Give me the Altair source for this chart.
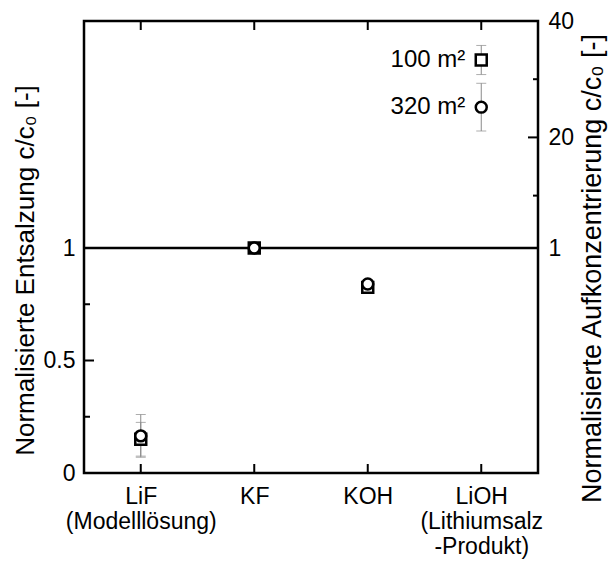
import altair as alt
import pandas as pd

# ---------------- data ----------------
categories = ["LiF", "KF", "KOH", "LiOH"]
series = ["100 m²", "320 m²"]
vals_100 = [0.15, 1.015, 0.825, 33.3]
err_100 = [0.075, 0.015, 0.015, 2.5]
vals_320 = [0.165, 1.015, 0.84, 25.2]
err_320 = [0.095, 0.015, 0.015, 4.1]

left_major = [0, 0.5, 1]
left_minor = [0.25, 0.75]
right_major = [20]
right_minor = [10, 30]
right_labels = [1, 20, 40]

rows = []
for s, vals, errs in [(series[0], vals_100, err_100), (series[1], vals_320, err_320)]:
    for c, v, e in zip(categories, vals, errs):
        rows.append({"cat": c, "series": s, "v": v, "lo": v - e, "hi": v + e})
df = pd.DataFrame(rows)

W, H = 454, 452
FONT = "Liberation Sans"
FS = 23


def ysc():
    return alt.Scale(domain=[0, 1, 40], range=[H, 227, 0], nice=False, zero=False)


xaxis = alt.Axis(
    labelExpr="datum.value == 'LiF' ? ['LiF', '(Modelllösung)'] : "
              "datum.value == 'LiOH' ? ['LiOH', '(Lithiumsalz', '-Produkt)'] : datum.value",
    ticks=False, domain=False, labelAngle=0, labelPadding=12,
    labelFontSize=FS, labelLineHeight=25, labelFont=FONT, labelColor="black",
)
xenc = alt.X("cat:N", scale=alt.Scale(type="point", domain=categories, padding=0.5),
             axis=xaxis, title=None)

left_axis = alt.Axis(
    orient="left", values=left_major, labelExpr="'' + datum.value",
    ticks=False, domain=False, grid=False, labelPadding=9,
    labelFontSize=FS, labelFont=FONT, labelColor="black",
    title="Normalisierte Entsalzung c/c₀ [-]", titleFontSize=26, titleFont=FONT,
    titleFontWeight="normal", titleColor="black",
    titleAngle=270, titleAlign="center", titleBaseline="middle",
    titleX=-59, titleY=249,
)
right_axis = alt.Axis(
    orient="right", values=right_labels, labelExpr="'' + datum.value",
    ticks=False, domain=False, grid=False, labelPadding=10,
    labelFontSize=FS, labelFont=FONT, labelColor="black",
    title="Normalisierte Aufkonzentrierung c/c₀ [-]", titleFontSize=27, titleFont=FONT,
    titleFontWeight="normal", titleColor="black",
    titleAngle=270, titleAlign="center", titleBaseline="middle",
    titleX=54, titleY=247,
)

tick_style = dict(color="black", strokeWidth=2)

lmaj = alt.Chart(pd.DataFrame({"t": left_major})).mark_rule(**tick_style).encode(
    y=alt.Y("t:Q", scale=ysc(), axis=left_axis), x=alt.value(0), x2=alt.value(10))
lmin = alt.Chart(pd.DataFrame({"t": left_minor})).mark_rule(**tick_style).encode(
    y=alt.Y("t:Q", scale=ysc(), axis=None), x=alt.value(0), x2=alt.value(6))
rmaj = alt.Chart(pd.DataFrame({"t": right_major})).mark_rule(**tick_style).encode(
    y=alt.Y("t:Q", scale=ysc(), axis=right_axis), x=alt.value(W), x2=alt.value(W - 10))
rmin = alt.Chart(pd.DataFrame({"t": right_minor})).mark_rule(**tick_style).encode(
    y=alt.Y("t:Q", scale=ysc(), axis=None), x=alt.value(W), x2=alt.value(W - 5))

catdf = pd.DataFrame({"cat": categories})
bticks = alt.Chart(catdf).mark_rule(**tick_style).encode(
    x=xenc, y=alt.value(H), y2=alt.value(H - 9))
tticks = alt.Chart(catdf).mark_rule(**tick_style).encode(
    x=xenc, y=alt.value(0), y2=alt.value(9))

hline = alt.Chart(pd.DataFrame({"y": [1]})).mark_rule(color="black", strokeWidth=2.5).encode(
    y=alt.Y("y:Q", scale=ysc(), axis=None))

base = alt.Chart(df)
ebar = base.mark_rule(color="#8a8a8a", strokeWidth=1).encode(
    x=xenc, y=alt.Y("lo:Q", scale=ysc(), axis=None), y2="hi:Q")
cap_lo = base.mark_tick(color="#8a8a8a", thickness=1, size=10, orient="horizontal").encode(
    x=xenc, y=alt.Y("lo:Q", scale=ysc(), axis=None))
cap_hi = base.mark_tick(color="#8a8a8a", thickness=1, size=10, orient="horizontal").encode(
    x=xenc, y=alt.Y("hi:Q", scale=ysc(), axis=None))

pts = base.mark_point(filled=False, fill="white", fillOpacity=1, color="black",
                      strokeWidth=2.5, size=120, opacity=1).encode(
    x=xenc, y=alt.Y("v:Q", scale=ysc(), axis=None),
    shape=alt.Shape("series:N", scale=alt.Scale(domain=series, range=["square", "circle"]),
                    legend=None))

labels = base.transform_filter(alt.datum.cat == "LiOH").mark_text(
    align="right", baseline="middle", dx=-16, fontSize=24, font=FONT, color="black").encode(
    x=xenc, y=alt.Y("v:Q", scale=ysc(), axis=None), text="series:N")

chart = alt.layer(
    hline, ebar, cap_lo, cap_hi, pts, labels, lmaj, lmin, rmaj, rmin, bticks, tticks
).resolve_scale(y="independent").properties(
    width=W, height=H,
    autosize=alt.AutoSizeParams(type="none"),
    padding={"left": 84, "top": 21, "right": 77, "bottom": 93},
).configure(
    background="white",
    view=alt.ViewConfig(stroke="black", strokeWidth=2.5),
)

chart.save("out.html", embed_options={"renderer": "svg", "actions": False})
